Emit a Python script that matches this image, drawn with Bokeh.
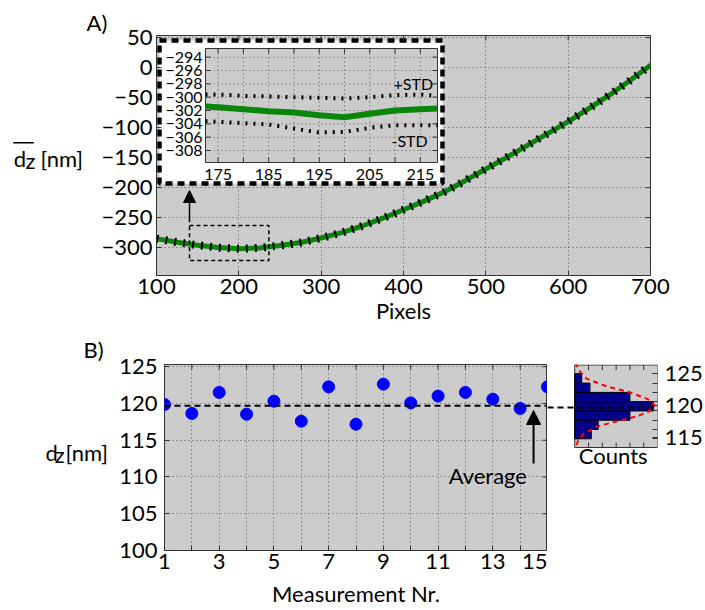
from bokeh.plotting import figure
from bokeh.layouts import column, row
from bokeh.models import Range1d, FixedTicker, Arrow, NormalHead, Span, BoxAnnotation
from bokeh.core.properties import value
from bokeh.embed import file_html
from bokeh.resources import INLINE

# ---------------- data ----------------
# Panel A: mean topography along the line
pixels = [100, 125, 150, 175, 200, 225, 250, 275, 300, 325, 350, 375, 400,
          425, 450, 475, 500, 525, 550, 575, 600, 625, 650, 675, 700]
dz_mean = [-285, -291, -296, -300, -302, -300.5, -296.5, -291.5, -284, -275, -264, -251, -237,
           -222.5, -207, -188.5, -169, -150, -130, -110, -90, -68.5, -46, -21.5, 4]

# Inset: zoom on pixels 172..218
inset_pixels = [172.5, 175, 180, 185, 190, 195, 200, 205, 210, 215, 218.4]
inset_mean = [-301.4, -301.5, -301.8, -302.1, -302.3, -302.7, -303.0, -302.5, -302.0, -301.8, -301.7]
inset_plus_std = [-299.6, -299.6, -299.8, -299.9, -300.0, -300.1, -300.2, -300.0, -299.7, -299.6, -299.8]
inset_minus_std = [-303.6, -303.7, -303.9, -304.1, -304.7, -305.3, -305.2, -304.6, -304.2, -304.2, -304.2]

# Panel B: repeated measurements
meas_nr = [1, 2, 3, 4, 5, 6, 7, 8, 9, 10, 11, 12, 13, 14, 15]
dz_meas = [119.86, 118.64, 121.50, 118.54, 120.31, 117.59, 122.26, 117.18,
           122.63, 120.08, 121.0, 121.5, 120.59, 119.32, 122.26]
dz_average = 119.7

# Histogram of panel B
hist_edges = [114.8, 116.25, 117.7, 119.15, 120.6, 122.05, 123.5, 124.95]
hist_counts = [2.4, 3.4, 8.0, 11.4, 8.0, 2.2, 1.0]
fit_dz = [126.7, 125.5, 124.2, 123.0, 122.1, 121.0, 120.0, 119.0, 118.3, 117.5, 116.7, 115.5, 114.5, 113.4]
fit_counts = [0.1, 0.6, 1.7, 4.6, 7.9, 10.6, 11.6, 10.6, 9.0, 6.0, 3.1, 1.2, 0.5, 0.1]

# ticks
a_xticks = [100, 200, 300, 400, 500, 600, 700]
a_yticks = [-300, -250, -200, -150, -100, -50, 0, 50]
in_xgrid = [175, 180, 185, 190, 195, 200, 205, 210, 215]
in_xlabels = [175, 185, 195, 205, 215]
in_yticks = [-308, -306, -304, -302, -300, -298, -296, -294]
b_xticks = [1, 3, 5, 7, 9, 11, 13, 15]
b_xminor = [2, 4, 6, 8, 10, 12, 14]
b_yticks = [100, 105, 110, 115, 120, 125]
h_xlim = [0, 12]
h_xticks = [2, 4, 6, 8, 10]
h_yticks = [115, 120, 125]

# ---------------- style ----------------
FONT = "Lato"
BG = "#cccccc"
EDGE = "#333333"
GRIDC = "#555555"
GREEN = "#0a870a"
PAGE_W, PAGE_H = 705, 610
TICK = 5  # inward tick length, px


def lin(p0, p1, v0, v1):
    return lambda p: v0 + (p - p0) * (v1 - v0) / (p1 - p0)


def frame_style(p):
    p.background_fill_color = BG
    p.border_fill_color = "white"
    p.outline_line_color = EDGE
    p.outline_line_width = 1


def axis_style(ax, ticks, minor=(), standoff=3, size="22px", overrides=None):
    ax.ticker = FixedTicker(ticks=list(ticks), minor_ticks=list(minor))
    ax.axis_line_color = None
    ax.major_tick_in = TICK
    ax.major_tick_out = 0
    ax.minor_tick_in = TICK
    ax.minor_tick_out = 0
    ax.major_tick_line_color = EDGE
    ax.minor_tick_line_color = EDGE
    ax.major_label_text_font = FONT
    ax.major_label_text_color = "black"
    ax.major_label_text_font_size = size
    ax.major_label_standoff = standoff
    ax.axis_label_text_font = FONT
    ax.axis_label_text_font_size = size
    ax.axis_label_text_font_style = "normal"
    ax.axis_label_text_color = "black"
    if overrides:
        ax.major_label_overrides = overrides


def grid_style(g, ticks, minor=()):
    g.ticker = FixedTicker(ticks=list(ticks), minor_ticks=list(minor))
    g.grid_line_color = GRIDC
    g.grid_line_dash = "1 3"
    g.grid_line_width = 1
    if minor:
        g.minor_grid_line_color = GRIDC
        g.minor_grid_line_dash = "1 3"


def box_ticks(p, xticks, yticks, xlim, ylim, xpx, ypx, top=True, right=True, bottom=False, left=False, **kw):
    """inward tick marks on the sides of a box that have no axis"""
    dx = (xlim[1] - xlim[0]) / xpx * TICK
    dy = (ylim[1] - ylim[0]) / ypx * TICK
    nx, ny = len(xticks), len(yticks)
    if top:
        p.segment(x0=xticks, x1=xticks, y0=[ylim[1]] * nx, y1=[ylim[1] - dy] * nx, line_color=EDGE, **kw)
    if bottom:
        p.segment(x0=xticks, x1=xticks, y0=[ylim[0]] * nx, y1=[ylim[0] + dy] * nx, line_color=EDGE, **kw)
    if right:
        p.segment(x0=[xlim[1]] * ny, x1=[xlim[1] - dx] * ny, y0=yticks, y1=yticks, line_color=EDGE, **kw)
    if left:
        p.segment(x0=[xlim[0]] * ny, x1=[xlim[0] + dx] * ny, y0=yticks, y1=yticks, line_color=EDGE, **kw)


def title_style(p, offset, standoff):
    p.title.align = "left"
    p.title.offset = offset
    p.title.standoff = standoff
    p.title.text_font = FONT
    p.title.text_font_size = "22px"
    p.title.text_font_style = "normal"
    p.title.text_color = "black"


def txt(p, x, y, s, size="22px", align="left", baseline="middle", **kw):
    p.text(x=[x], y=[y], text=[s], text_font=value(FONT), text_font_size=size,
           text_align=align, text_baseline=baseline, text_color="black", **kw)


def minus(v):
    return str(v).replace("-", "\u2212")


def label_panel(width, height, top, bottom, title=None):
    """a blank strip (frame = page pixels) that carries the horizontal y-axis titles"""
    p = figure(width=width, height=height, x_range=Range1d(0, width), y_range=Range1d(bottom, top),
               output_backend="svg", toolbar_location=None, title=title,
               x_axis_location=None, y_axis_location=None,
               min_border_left=0, min_border_right=0, min_border_top=top,
               min_border_bottom=height - bottom)
    p.outline_line_color = None
    p.background_fill_color = "white"
    p.border_fill_color = "white"
    p.grid.visible = False
    return p


# ================= Panel A =================
HA = 327
A_L, A_R, A_T, A_B = 156, 650, 35, 275          # page pixels of the frame
A_X = (100, 700)
A_Y = (-346.5, 53.5)
LAB_A_W = 85

pA = figure(width=PAGE_W - LAB_A_W, height=HA, x_range=Range1d(*A_X), y_range=Range1d(*A_Y),
            output_backend="svg", toolbar_location=None, title="A)",
            min_border_left=A_L - LAB_A_W, min_border_right=PAGE_W - A_R,
            min_border_top=A_T, min_border_bottom=HA - A_B)
frame_style(pA)
title_style(pA, 86 - A_L, 0)
axis_style(pA.xaxis[0], a_xticks, standoff=3)
pA.xaxis.axis_label = "Pixels"
pA.xaxis.axis_label_standoff = 0
axis_style(pA.yaxis[0], a_yticks, standoff=4, overrides={t: minus(t) for t in a_yticks})
grid_style(pA.xgrid[0], a_xticks)
grid_style(pA.ygrid[0], a_yticks)

# main curve with its error marks
pA.line(pixels, dz_mean, line_color=GREEN, line_width=5)
pA.line(pixels, dz_mean, line_color="black", line_width=8, line_dash="2 7")

# zoom window and arrow
pA.add_layout(BoxAnnotation(left=140.1, right=236.5, top=-263.2, bottom=-321.5,
                            fill_alpha=0, line_color="black", line_alpha=1,
                            line_width=1.5, line_dash="4 3"))
pA.add_layout(Arrow(end=NormalHead(size=12, fill_color="black", line_color="black"),
                    x_start=140.1, y_start=-257.7, x_end=140.1, y_end=-204.8,
                    line_color="black", line_width=1.5))

# ---- inset (own ranges mapped onto a sub-rectangle of the frame) ----
IN_L, IN_R, IN_T, IN_B = 205, 437, 48, 162
IN_X = (172.5, 218.4)
IN_Y = (-309.8, -292.7)
ipx = lin(IN_L, IN_R, *IN_X)
ipy = lin(IN_B, IN_T, *IN_Y)
pA.extra_x_ranges = {"ix": Range1d(ipx(A_L), ipx(A_R))}
pA.extra_y_ranges = {"iy": Range1d(ipy(A_B), ipy(A_T))}
R = dict(x_range_name="ix", y_range_name="iy")

pA.quad(left=ipx(159), right=ipx(442), top=ipy(40), bottom=ipy(183), fill_color="white",
        line_color="black", line_width=4.5, line_dash="7 5", **R)
pA.quad(left=IN_X[0], right=IN_X[1], bottom=IN_Y[0], top=IN_Y[1], fill_color=BG,
        line_color=EDGE, line_width=1, **R)
nx, ny = len(in_xgrid), len(in_yticks)
pA.segment(x0=in_xgrid, x1=in_xgrid, y0=[IN_Y[0]] * nx, y1=[IN_Y[1]] * nx,
           line_color=GRIDC, line_dash="1 3", line_width=1, **R)
pA.segment(x0=[IN_X[0]] * ny, x1=[IN_X[1]] * ny, y0=in_yticks, y1=in_yticks,
           line_color=GRIDC, line_dash="1 3", line_width=1, **R)
box_ticks(pA, in_xgrid, in_yticks, IN_X, IN_Y, IN_R - IN_L, IN_B - IN_T,
          top=True, right=True, bottom=True, left=True, **R)

pA.line(inset_pixels, inset_plus_std, line_color="black", line_width=4, line_dash="2 6", **R)
pA.line(inset_pixels, inset_minus_std, line_color="black", line_width=4, line_dash="2 6", **R)
pA.line(inset_pixels, inset_mean, line_color=GREEN, line_width=6, **R)

pA.text(x=[ipx(202)] * ny, y=in_yticks, text=[minus(t) for t in in_yticks],
        text_font=value(FONT), text_font_size="16px", text_align="right", text_baseline="middle", **R)
pA.text(x=in_xlabels, y=[ipy(174)] * len(in_xlabels), text=[str(t) for t in in_xlabels],
        text_font=value(FONT), text_font_size="16px", text_align="center", text_baseline="middle", **R)
txt(pA, ipx(393), ipy(83.3), "+STD", size="16px", **R)
txt(pA, ipx(391), ipy(140), "-STD", size="16px", **R)

# top / right inward ticks of the main frame
box_ticks(pA, a_xticks, a_yticks, A_X, A_Y, A_R - A_L, A_B - A_T)

# y title of panel A (horizontal, overlined d with subscript z)
labA = label_panel(LAB_A_W, HA, A_T, A_B)
txt(labA, 13.3, 158.2, "d")
txt(labA, 25, 160.0, "z")
txt(labA, 40, 158.2, "[nm]")
labA.segment(x0=[12.7], x1=[33.3], y0=[142.3], y1=[142.3], line_color="black", line_width=1.5)

# ================= Panel B =================
ROW_TOP = HA
HB = PAGE_H - HA
LAB_B_W = 116
B_L, B_R, B_T, B_B = 162, 547, 364, 550
B_X = (1, 15)
B_Y = (100, 125.3)
bx_ = lin(B_L, B_R, *B_X)
by_ = lin(B_B, B_T, *B_Y)

pB = figure(width=B_R - LAB_B_W, height=HB, x_range=Range1d(*B_X), y_range=Range1d(*B_Y),
            output_backend="svg", toolbar_location=None,
            min_border_left=B_L - LAB_B_W, min_border_right=0,
            min_border_top=B_T - ROW_TOP, min_border_bottom=ROW_TOP + HB - B_B)
frame_style(pB)
axis_style(pB.xaxis[0], b_xticks, b_xminor, standoff=3)
pB.xaxis.axis_label = "Measurement Nr."
pB.xaxis.axis_label_standoff = 8
axis_style(pB.yaxis[0], b_yticks, standoff=7)
grid_style(pB.xgrid[0], b_xticks, b_xminor)
grid_style(pB.ygrid[0], b_yticks)
box_ticks(pB, sorted(b_xticks + b_xminor), b_yticks, B_X, B_Y, B_R - B_L, B_B - B_T)

pB.add_layout(Span(location=dz_average, dimension="width", line_color="black",
                   line_width=2, line_dash="6 4"))
pB.scatter(meas_nr, dz_meas, size=12, fill_color="#0000ff", line_color="#0000ff")
pB.add_layout(Arrow(end=NormalHead(size=14, fill_color="black", line_color="black"),
                    x_start=bx_(533), y_start=by_(463), x_end=bx_(533), y_end=by_(410),
                    line_color="black", line_width=2))
txt(pB, bx_(487), by_(474.5), "Average", align="center")

labB = label_panel(LAB_B_W, HB, B_T - ROW_TOP, B_B - ROW_TOP, title="B)")
title_style(labB, 83, 3)
txt(labB, 45, 452.2 - ROW_TOP, "d")
txt(labB, 54.3, 454.0 - ROW_TOP, "z")
txt(labB, 65, 452.2 - ROW_TOP, "[nm]")

# ================= Histogram (frame shares B's height; box drawn in it) =================
H_L, H_R, H_T, H_B = 575, 660, 362, 447          # page pixels of the histogram box
H_Y0, H_Y1 = 113.44, 126.72
hx_ = lin(H_L, H_R, *h_xlim)
hy_ = lin(H_B, H_T, H_Y0, H_Y1)
pH = figure(width=PAGE_W - B_R, height=HB, x_range=Range1d(hx_(B_R), h_xlim[1]),
            y_range=Range1d(hy_(B_B), hy_(B_T)),
            output_backend="svg", toolbar_location=None, y_axis_location="right",
            x_axis_location=None,
            min_border_left=0, min_border_right=PAGE_W - H_R,
            min_border_top=B_T - ROW_TOP, min_border_bottom=ROW_TOP + HB - B_B)
pH.background_fill_color = "white"
pH.border_fill_color = "white"
pH.outline_line_color = None
pH.grid.visible = False
axis_style(pH.yaxis[0], h_yticks, hist_edges, standoff=7)

H_TOP = hy_(364.5)
pH.quad(left=h_xlim[0], right=h_xlim[1], bottom=H_Y0, top=H_TOP, fill_color=BG,
        line_color=EDGE, line_width=1)
box_ticks(pH, h_xticks, sorted(h_yticks + hist_edges), h_xlim, (H_Y0, H_TOP),
          H_R - H_L, H_B - 364.5, top=True, bottom=True, right=False, left=True)
pH.quad(left=0, right=hist_counts, bottom=hist_edges[:-1], top=hist_edges[1:],
        fill_color="#00008b", line_color="black", line_width=1)
pH.add_layout(Span(location=dz_average, dimension="width", line_color="black",
                   line_width=2, line_dash="6 4"))
pH.line(fit_counts, fit_dz, line_color="#ff0000", line_width=2, line_dash="5 4")
txt(pH, hx_(614.5), hy_(454.5), "Counts", align="center")

layout = column(row(labA, pA), row(labB, pB, pH))
open("out.html", "w").write(file_html(layout, INLINE))
